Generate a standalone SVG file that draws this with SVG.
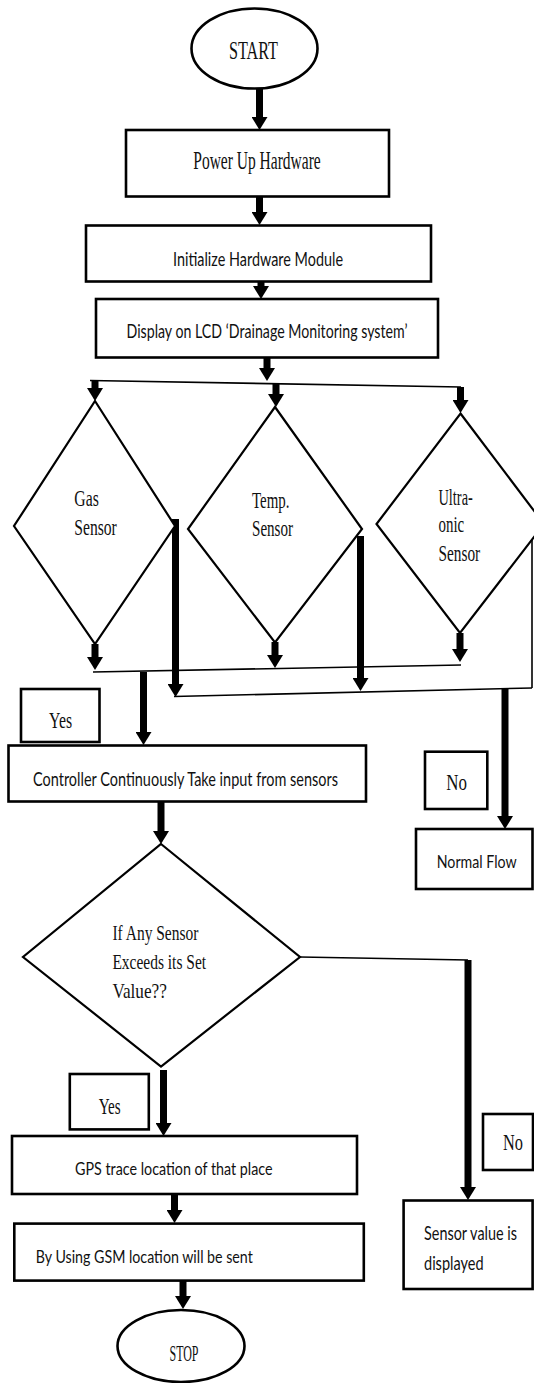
<svg xmlns="http://www.w3.org/2000/svg" width="534" height="1383" viewBox="0 0 534 1383">
<style>
.box{fill:#fff;stroke:#000;stroke-width:2.6}
.dia{fill:#fff;stroke:#000;stroke-width:2.2}
.thin{fill:none;stroke:#000;stroke-width:1.6}
.thick{fill:none;stroke:#000;stroke-width:7}
.t{font-family:"Liberation Serif","Times New Roman",serif;fill:#111}
.c{font-family:"Lato","Open Sans",sans-serif;fill:#111;font-size:14px}
.m{text-anchor:middle}
</style>
<defs>
<marker id="ah" viewBox="0 0 13 16" refX="0" refY="8" markerWidth="13" markerHeight="16" markerUnits="userSpaceOnUse" orient="auto">
<path d="M0,0 L13,8 L0,16 z" fill="#000"/>
</marker>
</defs>
<rect width="534" height="1383" fill="#fff"/>

<g id="connectors">
<path class="thick" d="M259.5,88 V117" marker-end="url(#ah)"/>
<path class="thick" d="M259.5,196 V212" marker-end="url(#ah)"/>
<path class="thick" d="M261,280 V286" marker-end="url(#ah)"/>
<path class="thick" d="M267,357 V368" marker-end="url(#ah)"/>
<path class="thin" d="M90,380.5 L461,387"/>
<path class="thick" d="M95,380.5 V388" marker-end="url(#ah)"/>
<path class="thick" d="M276,383 V394" marker-end="url(#ah)"/>
<path class="thick" d="M460.5,387 V400" marker-end="url(#ah)"/>
<path class="thick" d="M95,644 V657" marker-end="url(#ah)"/>
<path class="thick" d="M275,642 V655" marker-end="url(#ah)"/>
<path class="thick" d="M460,633 V649" marker-end="url(#ah)"/>
<path class="thin" d="M93,672 L461,665"/>
<path class="thick" d="M143.5,672 V732" marker-end="url(#ah)"/>
<path class="thick" d="M175.5,519 V684" marker-end="url(#ah)"/>
<path class="thick" d="M360.5,536 V678" marker-end="url(#ah)"/>
<path class="thin" d="M532,524 V688"/>
<path class="thin" d="M174,696.5 L532,688"/>
<path class="thick" d="M505,689 V816" marker-end="url(#ah)"/>
<path class="thick" d="M161,802 V831" marker-end="url(#ah)"/>
<path class="thick" d="M163.5,1070 V1123" marker-end="url(#ah)"/>
<path class="thin" d="M300,957 L468,960"/>
<path class="thick" d="M468,960 V1187" marker-end="url(#ah)"/>
<path class="thick" d="M174.5,1194 V1210" marker-end="url(#ah)"/>
<path class="thick" d="M183,1280 V1296" marker-end="url(#ah)"/>
</g>

<g id="start">
<ellipse class="box" cx="254.5" cy="48.5" rx="63" ry="40"/>
<text class="t m" transform="translate(253.5,58.5) scale(1,1.56)" font-size="15.5" textLength="49" lengthAdjust="spacingAndGlyphs">START</text>
</g>

<g id="power">
<rect class="box" x="126" y="130" width="263" height="66.5"/>
<text class="t m" transform="translate(257,169) scale(1,1.56)" font-size="15.5" textLength="127.5" lengthAdjust="spacingAndGlyphs">Power Up Hardware</text>
</g>

<g id="init">
<rect class="box" x="86" y="225.5" width="345" height="56"/>
<text class="c m" transform="translate(258,265.5) scale(1,1.44)" textLength="170" lengthAdjust="spacingAndGlyphs">Initialize Hardware Module</text>
</g>

<g id="display">
<rect class="box" x="96" y="299" width="342" height="58.5"/>
<text class="c m" transform="translate(267,338) scale(1,1.37)" textLength="281" lengthAdjust="spacingAndGlyphs">Display on LCD ‘Drainage Monitoring system’</text>
</g>

<g id="gas">
<polygon class="dia" points="95,401 175,526 95,644 14,526"/>
<text class="t" transform="translate(74.3,505.5) scale(1,1.42)" font-size="15.6" textLength="24.5" lengthAdjust="spacingAndGlyphs">Gas</text>
<text class="t" transform="translate(74.3,535) scale(1,1.42)" font-size="15.6" textLength="42.5" lengthAdjust="spacingAndGlyphs">Sensor</text>
</g>

<g id="temp">
<polygon class="dia" points="275,407 362,529 275,642.5 188,529"/>
<text class="t" transform="translate(252,508.3) scale(1,1.42)" font-size="15.6" textLength="37.5" lengthAdjust="spacingAndGlyphs">Temp.</text>
<text class="t" transform="translate(252,535.6) scale(1,1.42)" font-size="15.6" textLength="41" lengthAdjust="spacingAndGlyphs">Sensor</text>
</g>

<g id="ultra">
<polygon class="dia" points="460.5,413.5 544,524 460,633 376.5,524"/>
<text class="t" transform="translate(438.5,505) scale(1,1.42)" font-size="15.6" textLength="34.3" lengthAdjust="spacingAndGlyphs">Ultra-</text>
<text class="t" transform="translate(438.5,532) scale(1,1.42)" font-size="15.6" textLength="25.7" lengthAdjust="spacingAndGlyphs">onic</text>
<text class="t" transform="translate(438.5,561) scale(1,1.42)" font-size="15.6" textLength="41.7" lengthAdjust="spacingAndGlyphs">Sensor</text>
</g>

<g id="yes1">
<rect class="box" x="21" y="689" width="78.5" height="53"/>
<text class="t m" transform="translate(60.6,727.7) scale(1,1.56)" font-size="14.8" textLength="23" lengthAdjust="spacingAndGlyphs">Yes</text>
</g>

<g id="controller">
<rect class="box" x="8.5" y="745.5" width="357.5" height="56"/>
<text class="c m" transform="translate(185.5,785.6) scale(1,1.36)" textLength="305" lengthAdjust="spacingAndGlyphs">Controller Continuously Take input from sensors</text>
</g>

<g id="no1">
<rect class="box" x="425" y="751.7" width="62.3" height="57.3"/>
<text class="t m" transform="translate(456.7,790) scale(1,1.35)" font-size="17" textLength="20.7" lengthAdjust="spacingAndGlyphs">No</text>
</g>

<g id="normal">
<rect class="box" x="416" y="829" width="116.5" height="60"/>
<text class="c m" transform="translate(476.7,868) scale(1,1.3)" textLength="80" lengthAdjust="spacingAndGlyphs">Normal Flow</text>
</g>

<g id="decision">
<polygon class="dia" points="161,844 300,957 161,1066.5 23,957"/>
<text class="t" transform="translate(112.4,939.6) scale(1,1.3)" font-size="15.7" textLength="86" lengthAdjust="spacingAndGlyphs">If Any Sensor</text>
<text class="t" transform="translate(112.4,968.6) scale(1,1.3)" font-size="15.7" textLength="93.7" lengthAdjust="spacingAndGlyphs">Exceeds its Set</text>
<text class="t" transform="translate(112.4,997.5) scale(1,1.3)" font-size="15.7" textLength="54.5" lengthAdjust="spacingAndGlyphs">Value??</text>
</g>

<g id="yes2">
<rect class="box" x="69.8" y="1074" width="79" height="55.4"/>
<text class="t m" transform="translate(109.7,1114) scale(1,1.56)" font-size="14.8" textLength="22" lengthAdjust="spacingAndGlyphs">Yes</text>
</g>

<g id="no2">
<rect class="box" x="483" y="1114" width="50" height="56"/>
<text class="t m" transform="translate(513,1150) scale(1,1.35)" font-size="17" textLength="20" lengthAdjust="spacingAndGlyphs">No</text>
</g>

<g id="gps">
<rect class="box" x="12" y="1136" width="345" height="58"/>
<text class="c m" transform="translate(173.8,1175.4) scale(1,1.26)" textLength="197.5" lengthAdjust="spacingAndGlyphs">GPS trace location of that place</text>
</g>

<g id="sensorvalue">
<rect class="box" x="403.6" y="1200.5" width="129" height="88.5"/>
<text class="c" transform="translate(424,1239.6) scale(1,1.36)" textLength="93" lengthAdjust="spacingAndGlyphs">Sensor value is</text>
<text class="c" transform="translate(424,1270) scale(1,1.36)" textLength="59.6" lengthAdjust="spacingAndGlyphs">displayed</text>
</g>

<g id="gsm">
<rect class="box" x="14.3" y="1223.6" width="349.5" height="57"/>
<text class="c" transform="translate(35.8,1263.4) scale(1,1.26)" textLength="217" lengthAdjust="spacingAndGlyphs">By Using GSM location will be sent</text>
</g>

<g id="stop">
<ellipse class="box" cx="181" cy="1346" rx="63.5" ry="36"/>
<text class="t m" transform="translate(184,1360.5) scale(1,1.8)" font-size="13" textLength="29" lengthAdjust="spacingAndGlyphs">STOP</text>
</g>
</svg>
